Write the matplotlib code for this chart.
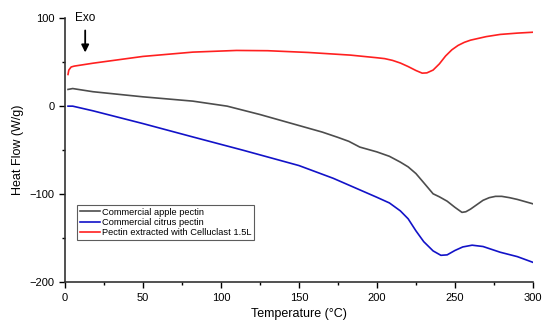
import numpy as np
import matplotlib.pyplot as plt

plt.rcParams['font.family'] = ['Liberation Sans', 'DejaVu Sans']

# Commercial apple pectin
t_apple = [2, 5, 18, 50, 82, 104, 125, 150, 165, 175, 182, 189, 195, 200, 208,
           215, 220, 225, 230, 236, 240, 245, 250, 254.5, 257, 260, 264, 268,
           272, 276, 280, 285, 290, 300]
hf_apple = [19, 20, 16.4, 10.6, 5.7, 0, -9.5, -22, -29.5, -35.5, -40, -46.5,
            -49.5, -52, -57, -63.6, -69, -76.6, -87, -99.6, -103, -108, -115,
            -120.7, -120, -117, -112, -107, -104, -102.5, -102.5, -104, -106,
            -111]

# Commercial citrus pectin
t_citrus = [2, 5, 18, 50, 82, 114, 150, 172, 200, 208, 215, 220, 225, 230,
            236, 241, 245, 250, 255, 261, 268, 279, 290, 300]
hf_citrus = [0, 0, -5.3, -19.8, -35, -50, -67.5, -82, -103.6, -110, -119,
             -128, -141.7, -154, -164.5, -169.5, -169, -164, -160, -158,
             -159.5, -166, -171, -177.5]

# Pectin extracted with Celluclast 1.5L
t_cell = [2, 2.5, 4, 6, 18, 50, 82, 110, 130, 156, 183, 200, 205, 210, 215,
          220, 225, 229, 232, 236, 240, 244, 248, 252, 256, 260, 270, 279,
          290, 300]
hf_cell = [36, 41, 44.5, 45.5, 48.8, 56.5, 61.4, 63.3, 63, 61, 58, 55, 54, 52,
           49, 45, 40.5, 37.5, 37.8, 41, 48, 57, 64, 69, 72.5, 75, 79, 81.5,
           83, 84]

fig = plt.figure(figsize=(5.5, 3.3), dpi=100)
ax = fig.add_axes([0.118, 0.145, 0.851, 0.8])

ax.plot(t_apple, hf_apple, color='#4d4d4d', lw=1.2, label='Commercial apple pectin')
ax.plot(t_citrus, hf_citrus, color='#1212c8', lw=1.2, label='Commercial citrus pectin')
ax.plot(t_cell, hf_cell, color='#ff2020', lw=1.2, label='Pectin extracted with Celluclast 1.5L')

ax.annotate('', xy=(13, 61), xytext=(13, 86),
            arrowprops=dict(arrowstyle='-|>', color='black', lw=1.3,
                            mutation_scale=11, shrinkA=0, shrinkB=0))
ax.text(13, 93, 'Exo', ha='center', va='bottom', fontsize=8.5)

ax.set_xlim(0, 300)
ax.set_ylim(-200, 100)
ax.set_xticks([0, 50, 100, 150, 200, 250, 300])
ax.set_xticks(np.arange(25, 300, 50), minor=True)
ax.set_yticks([-200, -100, 0, 100])
ax.set_yticks([-150, -50, 50], minor=True)
ax.tick_params(labelsize=8, length=4, width=1)
ax.tick_params(which='minor', length=2.5, width=1)
ax.spines['top'].set_visible(False)
ax.spines['right'].set_visible(False)
for s in ['left', 'bottom']:
    ax.spines[s].set_linewidth(1.2)
    ax.spines[s].set_color('#333333')

ax.set_xlabel('Temperature (°C)', fontsize=9)
ax.set_ylabel('Heat Flow (W/g)', fontsize=9)

leg = ax.legend(loc='lower left', bbox_to_anchor=(0.026, 0.159), fontsize=6.7,
                fancybox=False, edgecolor='#333333', handlelength=2.2,
                handletextpad=0.2, borderpad=0.3, labelspacing=0.15,
                borderaxespad=0)
leg.get_frame().set_linewidth(0.8)

fig.savefig('out.png', dpi=100)
